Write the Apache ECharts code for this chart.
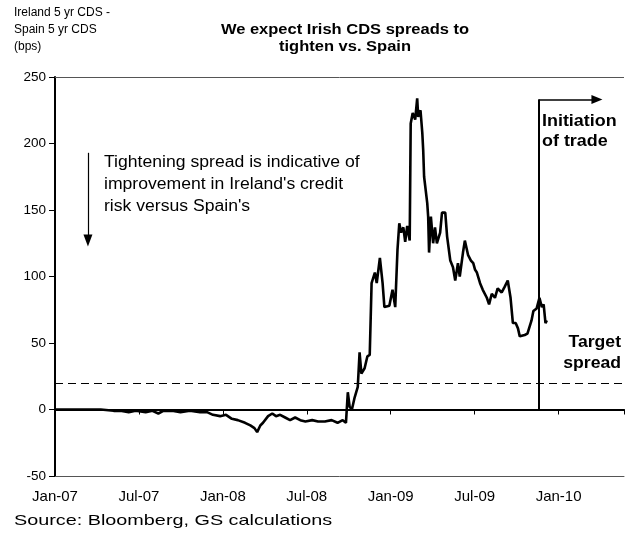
<!DOCTYPE html>
<html>
<head>
<meta charset="utf-8">
<script src="https://cdn.jsdelivr.net/npm/echarts@6/dist/echarts.min.js"></script>
<style>html,body{margin:0;padding:0;background:#fff}#c{width:626px;height:535px}</style>
</head>
<body>
<div id="c"></div>
<script>
// ---- data ----
const dates = [
'2007-01-01','2007-02-24','2007-04-09','2007-05-07','2007-05-22','2007-06-09','2007-06-24','2007-07-16','2007-07-31','2007-08-13',
'2007-08-24','2007-09-12','2007-09-30','2007-10-21','2007-11-12','2007-11-27','2007-12-10','2007-12-26','2008-01-08','2008-01-21',
'2008-02-03','2008-02-18','2008-02-29','2008-03-09','2008-03-15','2008-03-22','2008-03-28','2008-04-08','2008-04-17','2008-04-25',
'2008-05-04','2008-05-15','2008-05-26','2008-06-06','2008-06-17','2008-06-28','2008-07-13','2008-07-26','2008-08-10','2008-08-25',
'2008-09-07','2008-09-18','2008-09-25','2008-09-29','2008-10-03','2008-10-08','2008-10-14','2008-10-21','2008-10-25','2008-10-29',
'2008-11-05','2008-11-11','2008-11-16','2008-11-20','2008-11-27','2008-12-01','2008-12-08','2008-12-14','2008-12-18','2008-12-29',
'2009-01-05','2009-01-11','2009-01-16','2009-01-20','2009-01-24','2009-01-29','2009-02-02','2009-02-06','2009-02-11','2009-02-13',
'2009-02-17','2009-02-22','2009-02-26','2009-02-28','2009-03-05','2009-03-09','2009-03-11','2009-03-13','2009-03-20','2009-03-22',
'2009-03-24','2009-03-28','2009-04-02','2009-04-06','2009-04-10','2009-04-17','2009-04-21','2009-04-28','2009-05-02','2009-05-09',
'2009-05-15','2009-05-20','2009-05-26','2009-05-30','2009-06-06','2009-06-10','2009-06-17','2009-06-23','2009-06-28','2009-07-02',
'2009-07-06','2009-07-13','2009-07-19','2009-07-28','2009-08-02','2009-08-08','2009-08-15','2009-08-21','2009-08-30','2009-09-05',
'2009-09-12','2009-09-18','2009-09-23','2009-09-29','2009-10-04','2009-10-08','2009-10-19','2009-10-25','2009-11-03','2009-11-07',
'2009-11-14','2009-11-20','2009-11-25','2009-11-29','2009-12-03','2009-12-06'
];
const spread = [
0,0,0,-1,-1,-2,-1,-2,-1,-3,
-1,-1,-2,-1,-2,-2,-4,-5,-4,-7,
-8,-10,-12,-14,-17,-12,-10,-5,-3,-5,
-4,-6,-8,-6,-8,-9,-8,-9,-9,-8,
-10,-8,-10,13,2,0,9,17,43,27,
31,40,41,95,103,95,114,95,77,78,
90,77,120,140,133,137,126,138,127,215,
223,218,234,220,225,208,195,175,155,145,
118,145,125,137,125,133,148,148,130,112,
107,97,110,100,118,127,116,112,110,105,
103,95,90,84,79,87,84,91,88,92,
97,84,65,65,61,55,56,57,67,74,
76,84,77,79,65,67
];
const xTickLabels = ['Jan-07','Jul-07','Jan-08','Jul-08','Jan-09','Jul-09','Jan-10'];
const xAxisEnd = '2010-05-22';
const yMin = -50, yMax = 250, yStep = 50;
const targetSpread = 20;
const tradeDate = '2009-11-18';
const tradeArrowEnd = '2010-03-24';
const tradeArrowLevel = 233;
const noteArrowDate = '2007-03-12';
const noteArrowFrom = 193, noteArrowTo = 127;

// months since Jan 2007 (fractional)
function toMonths(s){
  const p = s.split('-').map(Number);
  const dim = new Date(p[0], p[1], 0).getDate();
  return (p[0]-2007)*12 + (p[1]-1) + (p[2]-1)/dim;
}
const seriesData = dates.map((d,i)=>[toMonths(d), spread[i]]);
const xMax = toMonths(xAxisEnd);
const tX = toMonths(tradeDate), aX = toMonths(tradeArrowEnd), nX = toMonths(noteArrowDate);

const FONT = 'Arial, "Liberation Sans", sans-serif';
function fmtX(v){ const k = Math.round(v/6); return (Math.abs(v/6-k)<1e-6 && xTickLabels[k]) ? xTickLabels[k] : ''; }

const chart = echarts.init(document.getElementById('c'), null, {renderer:'canvas'});
chart.setOption({
  animation:false,
  backgroundColor:'#fff',
  grid:{left:55, right:2, top:77, bottom:59, containLabel:false},
  xAxis:[
    {type:'value', position:'bottom', min:0, max:xMax, interval:6,
     axisLine:{show:true, onZero:false, lineStyle:{color:'#555', width:1}},
     axisTick:{show:false}, splitLine:{show:false},
     axisLabel:{formatter:fmtX, fontSize:15, color:'#000', fontFamily:FONT, margin:13, showMaxLabel:false}},
    {type:'value', position:'top', min:0, max:xMax, interval:6,
     axisLine:{show:true, onZero:true, lineStyle:{color:'#000', width:2}},
     axisTick:{show:true, inside:true, length:5, lineStyle:{color:'#000', width:1}},
     axisLabel:{show:false}, splitLine:{show:false}}
  ],
  yAxis:{type:'value', min:yMin, max:yMax, interval:yStep,
     axisLine:{show:true, onZero:false, lineStyle:{color:'#000', width:2}},
     axisTick:{show:true, length:6, lineStyle:{color:'#000', width:1}},
     splitLine:{show:false},
     axisLabel:{fontSize:13.5, color:'#000', fontFamily:FONT, margin:9}},
  series:[{
    type:'line', xAxisIndex:0, data:seriesData, showSymbol:false, symbol:'none',
    lineStyle:{color:'#000', width:2.6}, z:3,
    markLine:{silent:true, symbol:'none', label:{show:false}, animation:false,
      data:[
        {yAxis:yMax, lineStyle:{color:'#555', width:1, type:'solid'}},
        {yAxis:targetSpread, lineStyle:{color:'#000', width:1.2, type:[8,5]}},
        [{coord:[tX,0], lineStyle:{color:'#000', width:2, type:'solid'}}, {coord:[tX,tradeArrowLevel]}],
        [{coord:[tX,tradeArrowLevel], symbol:'none', lineStyle:{color:'#000', width:1.5, type:'solid'}},
         {coord:[aX,tradeArrowLevel], symbol:'triangle', symbolSize:[9,11]}],
        [{coord:[nX,noteArrowFrom], symbol:'none', lineStyle:{color:'#000', width:1.2, type:'solid'}},
         {coord:[nX,noteArrowTo], symbol:'triangle', symbolSize:[9,12]}]
      ]}
  }],
  graphic:[
    {type:'text', x:14, y:4, style:{text:'Ireland 5 yr CDS -\nSpain 5 yr CDS\n(bps)', font:'12px '+FONT, fill:'#000', lineHeight:17}},
    {type:'text', x:345, y:21, scaleX:1.1, style:{text:'We expect Irish CDS spreads to\ntighten vs. Spain', font:'bold 15px '+FONT, fill:'#000', textAlign:'center', lineHeight:17}},
    {type:'text', x:104, y:152, scaleX:1.1, style:{text:"Tightening spread is indicative of\nimprovement in Ireland's credit\nrisk versus Spain's", font:'16px '+FONT, fill:'#000', lineHeight:22}},
    {type:'text', x:542, y:112, scaleX:1.12, style:{text:'Initiation\nof trade', font:'bold 16px '+FONT, fill:'#000', lineHeight:20}},
    {type:'text', x:621, y:332, scaleX:1.1, style:{text:'Target\nspread', font:'bold 16px '+FONT, fill:'#000', textAlign:'right', lineHeight:21}},
    {type:'text', x:14, y:513, scaleX:1.32, style:{text:'Source: Bloomberg, GS calculations', font:'15px '+FONT, fill:'#000'}}
  ]
});
</script>
</body>
</html>
